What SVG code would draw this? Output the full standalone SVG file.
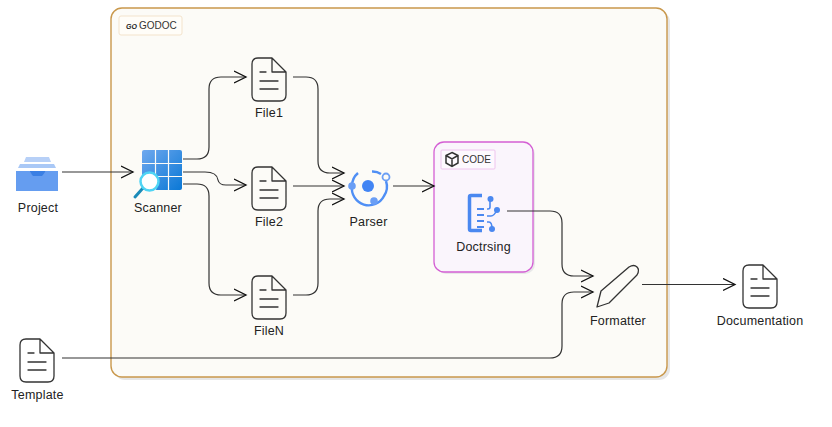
<svg xmlns="http://www.w3.org/2000/svg" width="832" height="427" viewBox="0 0 832 427">
<style>
text{font-family:"Liberation Sans",Arial,sans-serif;font-size:12.5px;letter-spacing:.2px;fill:#222;text-anchor:middle}
.lb{font-size:10px;letter-spacing:0;fill:#333;text-anchor:start}
.c{fill:none;stroke:#333;stroke-width:1.2;marker-end:url(#a)}
.d{fill:none;stroke:#333;stroke-width:1.3;stroke-linejoin:round;stroke-linecap:round}
</style>
<defs>
<marker id="a" markerUnits="userSpaceOnUse" markerWidth="14" markerHeight="14" refX="12" refY="7" orient="auto"><path d="M0 1L12 7L0 13" fill="none" stroke="#111" stroke-width="1.3"/></marker>
<linearGradient id="g" x1="0" y1="0" x2="1" y2="1"><stop offset="0" stop-color="#6fa8ee"/><stop offset="1" stop-color="#0a78d6"/></linearGradient>
<g id="doc"><path class="d" d="M6 0H20L34 14V37Q34 43 28 43H6Q0 43 0 37V6Q0 0 6 0ZM20 0V14H34M8 14H14M8 23H26M8 31H26"/></g>
</defs>
<rect width="832" height="427" fill="#fff"/>
<rect x="114" y="11" width="556" height="369" rx="11" fill="#e6e6e6"/>
<rect id="godoc" x="111" y="8" width="556" height="369" rx="11" fill="#fcfbf7" stroke="#c9984c" stroke-width="1.4"/>
<g id="godoc-label"><rect x="119" y="16" width="63" height="19" rx="2" fill="#fffdf8" stroke="#f3e3cc"/><text x="126" y="28.500" style="font-size:7px;font-weight:bold;font-style:italic;letter-spacing:0;text-anchor:start;fill:#222">GO</text><text class="lb" x="139" y="28.500">GODOC</text></g>
<rect x="436" y="144" width="99" height="130" rx="10" fill="#e8e8e8"/>
<rect id="code" x="434" y="142" width="99" height="130" rx="10" fill="#faf5fc" stroke="#d45fd4" stroke-width="1.3"/>
<g id="code-label"><rect x="441" y="150" width="54" height="19" rx="1" fill="#fdf9fe" stroke="#eec4ee"/><path d="M452 152.500L458 155.500V163L452 166.500L446 163V155.500ZM446 155.500L452 159L458 155.500M452 159V166.500" fill="none" stroke="#333" stroke-width="1.5"/><text class="lb" x="462" y="162.500">CODE</text></g>
<g id="connectors">
<path class="c" d="M62 172H133"/>
<path class="c" d="M183 159H197Q209 159 209 147V89Q209 77 221 77H246"/>
<path class="c" d="M183 172H205Q217 172 218 180Q219 185 226 185H246"/>
<path class="c" d="M183 184H197Q209 184 209 196V283Q209 295 221 295H246"/>
<path class="c" d="M293 77H306Q318 77 318 89V161Q318 173 330 173H344"/>
<path class="c" d="M293 186H344"/>
<path class="c" d="M293 295H306Q318 295 318 283V211Q318 199 330 199H344"/>
<path class="c" d="M393 186H434"/>
<path class="c" d="M507 211H550Q562 211 562 223V264Q562 276 574 276H593"/>
<path class="c" d="M62 358H550Q562 358 562 346V304Q562 292 574 292H593"/>
<path class="c" d="M642 284.500H735"/>
</g>
<g id="project"><path d="M26 157H49L51 162H24Z" fill="#b7d0f7"/><path d="M20 164H54L56 168H18Z" fill="#a9c8f6"/><path d="M16 171H29L32 174H42L46 171H58V191H16Z" fill="#659df0"/><path d="M29 171H46L42 176H33Z" fill="#3a7fe4"/><text x="38" y="212">Project</text></g>
<g id="scanner"><rect x="142" y="150" width="40" height="40" rx="2" fill="url(#g)"/><path d="M155.500 150V190M168.500 150V190M142 163.500H182M142 176.500H182" stroke="#fcfbf7" stroke-width="1.2"/><path d="M135 197L143 188" stroke="#1b8bb8" stroke-width="3" stroke-linecap="round"/><circle cx="149.500" cy="181.500" r="9" fill="#fff" stroke="#4fd4f4" stroke-width="2.500"/><text x="158" y="212">Scanner</text></g>
<g id="file1"><use href="#doc" x="252" y="58"/><text x="269" y="117">File1</text></g>
<g id="file2"><use href="#doc" x="252" y="167"/><text x="269" y="226">File2</text></g>
<g id="fileN"><use href="#doc" x="252" y="276"/><text x="269" y="335">FileN</text></g>
<g id="parser"><path d="M352 186A17 17 0 0 1 358 173M372 171.500A15 15 0 0 1 381 174M352 186A17 17 0 0 0 384 196A17 17 0 0 0 386 181" fill="none" stroke="#4f8ff5" stroke-width="2.400"/><circle cx="368" cy="186" r="6" fill="#4285f4"/><circle cx="352" cy="186" r="3.800" fill="#6a9ef5"/><circle cx="374" cy="201" r="3.800" fill="#6a9ef5"/><circle cx="386" cy="177" r="3.500" fill="#fcfbf7" stroke="#6a9ef5" stroke-width="1.800"/><text x="368.500" y="226">Parser</text></g>
<g id="doctrsing"><path d="M482 195.500H471Q469.500 195.500 469.500 197V229Q469.500 230.500 471 230.500H482" fill="none" stroke="#4a88f0" stroke-width="3.500"/><path d="M477 209H484M477 215H484M477 221H484M477 227H484" fill="none" stroke="#4a88f0" stroke-width="2"/><path d="M490 199V207Q490 209 488 209H487M497 210Q494 216 491 216H487M492 229Q492 222 489 222H487" fill="none" stroke="#4a88f0" stroke-width="1.600"/><circle cx="490.500" cy="199" r="3" fill="#4a88f0"/><circle cx="497" cy="210" r="3" fill="#4a88f0"/><circle cx="492" cy="229" r="3" fill="#4a88f0"/><text x="483.500" y="251">Doctrsing</text></g>
<g id="formatter"><path class="d" d="M597 307L601 291L629 267Q634 264 637 267Q640 270 637 275L609 303Z"/><text x="618" y="325">Formatter</text></g>
<g id="documentation"><use href="#doc" x="743" y="265"/><text x="760" y="325">Documentation</text></g>
<g id="template"><use href="#doc" x="20" y="339"/><text x="37.500" y="399">Template</text></g>
</svg>
